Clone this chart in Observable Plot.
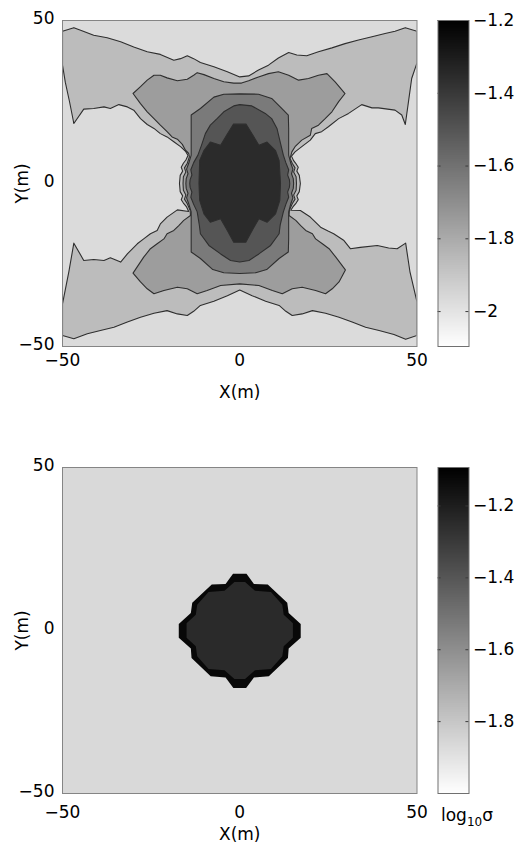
<!DOCTYPE html>
<html>
<head>
<meta charset="utf-8">
<script src="https://cdn.jsdelivr.net/npm/d3@7"></script>
<script src="https://cdn.jsdelivr.net/npm/@observablehq/plot@0.6"></script>
<style>
  html, body { margin: 0; padding: 0; background: #fff; }
  #fig { position: relative; width: 520px; height: 849px; background: #fff; font-family: "DejaVu Sans", sans-serif; }
  .panel { position: absolute; }
  #cblabel { position: absolute; left: 441px; top: 805px; font-size: 17px; line-height: 20px; color: #000; white-space: nowrap; }
  #cblabel sub { font-size: 12px; vertical-align: -5px; }
</style>
</head>
<body>
<div id="fig">
  <div id="p1" class="panel" style="left:0;top:0;width:430px"></div>
  <div id="c1" class="panel" style="left:437px;top:0;width:83px"></div>
  <div id="p2" class="panel" style="left:0;top:446.5px;width:430px"></div>
  <div id="c2" class="panel" style="left:437px;top:446.5px;width:83px"></div>
  <div id="cblabel">log<sub>10</sub>σ</div>
</div>
<script>
// ---- shared axis settings ----
const axisTicks = [-50, 0, 50];
const axisDomain = [-50, 50];

// ---- top panel: filled contours of log10 conductivity ----
const contourLevels = [-1.97, -1.86, -1.75, -1.63, -1.50, -1.35];
const colorDomainTop = [-2.096, -1.2];
const colorTicksTop = [-2, -1.8, -1.6, -1.4, -1.2];

const region0 = [[-50, -50], [50, -50], [50, 50], [-50, 50]];

const region1 = [
  [-50, 46.7], [-46.8, 47.8], [-44.9, 47.0], [-41.2, 45.5], [-37.4, 44.7], [-33.6, 43.5], [-29.9, 41.9],
  [-26.1, 40.4], [-22.4, 39.6], [-18.6, 37.8], [-16.7, 38.3], [-14.8, 39.2], [-13.0, 38.3], [-11.1, 37.1],
  [-7.3, 35.8], [-3.5, 34.3], [0, 32.7], [2.5, 33.0], [5.3, 34.8], [8.1, 36.3], [10.9, 38.5], [13.8, 40.2],
  [16.1, 39.4], [18.9, 39.2], [22.2, 40.4], [26.0, 41.6], [29.7, 42.9], [33.5, 44.0], [37.3, 45.0],
  [41.0, 46.0], [43.8, 46.7], [46.7, 47.8], [50, 46.7],
  [50, 37.0], [48.5, 32.2], [47.6, 25.1], [46.7, 18.1], [45.7, 21.0], [43.8, 22.5], [39.1, 23.2], [37.3, 23.2],
  [34.4, 24.2], [30.7, 21.5], [27.9, 19.9], [25.0, 17.4], [23.1, 15.9], [21.3, 15.3], [19.9, 13.3],
  [17.5, 11.3], [15.6, 9.7], [14.6, 8.4],
  [15.2, 7.0], [15.9, 6.0], [16.5, 5.0], [16.1, 3.8], [16.8, 2.5], [17.1, 0], [16.8, -2.5], [16.1, -3.8],
  [16.5, -5.0], [15.9, -6.0], [15.0, -7.2], [14.4, -8.2],
  [17.1, -8.3], [19.9, -10.3], [22.8, -13.4], [24.9, -14.6], [26.5, -15.4], [29.4, -17.5], [31.2, -20.0],
  [34.0, -19.6], [38.8, -19.0], [42.0, -19.8], [44.4, -20.0], [46.8, -18.3], [48.0, -27.0],
  [50, -36.3], [50, -46.6],
  [46.8, -47.8], [43.5, -46.3], [39.3, -45.1], [35.5, -44.1], [31.7, -42.5], [28.0, -41.0], [24.2, -39.8],
  [20.5, -39.0], [17.6, -40.0], [14.8, -40.5], [13.0, -39.2], [11.1, -37.4], [7.3, -36.1], [3.5, -34.4],
  [0, -32.7], [-3.5, -34.4], [-7.3, -36.1], [-11.1, -37.4], [-13.0, -39.2], [-14.8, -40.5], [-17.6, -40.0],
  [-20.5, -39.0], [-24.2, -39.8], [-28.0, -41.0], [-31.7, -42.5], [-35.5, -44.1], [-39.3, -45.1],
  [-43.0, -46.1], [-46.8, -47.6], [-50, -46.6],
  [-50, -36.9], [-48.2, -27.0], [-46.8, -18.3], [-44.0, -23.6], [-41.2, -23.3], [-38.3, -23.6], [-36.5, -22.8],
  [-33.6, -24.1], [-31.7, -21.6], [-28.9, -18.5], [-27.1, -17.0], [-25.2, -15.4], [-23.3, -14.4],
  [-22.4, -12.4], [-20.5, -10.3], [-17.6, -8.1], [-14.4, -8.6],
  [-15.0, -7.2], [-15.9, -6.0], [-16.5, -5.0], [-16.1, -3.8], [-16.8, -2.5], [-17.0, 0], [-16.8, 2.5],
  [-16.1, 3.8], [-16.5, 5.0], [-15.9, 6.2], [-15.2, 7.2], [-14.6, 8.6],
  [-15.3, 9.9], [-16.7, 11.3], [-18.6, 12.8], [-20.5, 14.3], [-22.4, 15.3], [-24.2, 16.9], [-26.1, 18.1],
  [-28.0, 19.9], [-29.9, 22.5], [-31.7, 23.5], [-34.1, 24.2], [-36.5, 23.0], [-38.3, 23.5], [-41.2, 23.0],
  [-44.0, 22.8], [-46.8, 18.4], [-48.0, 25.0], [-49.2, 31.0], [-50, 36.3]
];

const region2 = [
  [-30.1, 27.6], [-28.0, 29.7], [-26.1, 31.7], [-24.2, 33.2], [-22.4, 33.2], [-20.5, 32.4], [-17.6, 31.5],
  [-14.8, 32.0], [-13.0, 33.2], [-12.0, 34.0], [-10.1, 33.4], [-7.3, 32.2], [-4.5, 31.2], [-1.7, 30.8],
  [0.5, 30.8], [2.5, 31.5], [5.3, 32.7], [8.1, 33.7], [10.9, 34.3], [13.8, 33.2], [16.6, 31.7], [19.4, 32.2],
  [22.2, 33.2], [24.6, 33.7], [26.9, 31.2], [29.7, 27.6],
  [27.9, 25.1], [26.0, 22.0], [24.1, 19.9], [22.2, 17.9], [20.3, 16.9], [19.9, 14.8], [17.5, 13.3],
  [15.6, 11.3], [14.7, 9.7], [14.2, 7.7],
  [14.8, 6.2], [15.6, 4.8], [15.2, 3.5], [15.9, 2.1], [16.0, 0], [15.9, -2.1], [15.2, -3.5], [15.6, -4.8],
  [14.8, -6.2], [14.0, -8.2],
  [13.9, -9.8], [15.8, -11.3], [17.2, -12.9], [18.6, -14.4], [20.5, -15.4], [21.4, -17.0], [23.3, -18.5],
  [25.2, -20.0], [27.1, -22.6], [29.8, -26.5],
  [28.0, -30.2], [26.1, -32.3], [24.2, -33.8], [21.4, -32.8], [17.6, -31.8], [14.8, -32.3], [12.0, -33.8],
  [9.2, -32.8], [5.4, -31.3], [0, -30.8], [-5.4, -31.3], [-9.2, -32.8], [-12.0, -33.8], [-14.8, -32.3],
  [-17.6, -31.8], [-21.4, -32.8], [-24.2, -33.8], [-26.1, -32.3], [-28.0, -30.2], [-30.1, -27.5],
  [-27.1, -22.6], [-25.2, -20.0], [-23.3, -18.5], [-21.4, -17.0], [-20.5, -15.4], [-18.6, -14.4],
  [-17.2, -12.9], [-15.8, -11.3], [-13.9, -9.8], [-14.0, -8.2],
  [-14.8, -6.2], [-15.6, -4.8], [-15.2, -3.5], [-15.9, -2.1], [-16.0, 0], [-15.9, 2.1], [-15.2, 3.5],
  [-15.6, 4.8], [-14.8, 6.2], [-14.2, 8.2],
  [-14.4, 9.2], [-15.3, 10.2], [-16.2, 12.0], [-17.6, 13.6], [-19.1, 14.3], [-20.5, 15.9], [-22.4, 17.9],
  [-24.2, 19.9], [-26.1, 22.0], [-28.0, 24.5]
];

const region3 = [
  [-13.7, 21.0], [-11.1, 23.0], [-7.3, 26.5], [-4.5, 27.4], [0, 27.5], [5.3, 27.4], [9.0, 26.1],
  [11.9, 23.0], [13.7, 21.0],
  [13.8, 16.9], [13.8, 11.7], [13.8, 8.7],
  [14.4, 6.2], [15.0, 4.4], [14.6, 3.0], [15.1, 1.5], [15.2, 0], [15.1, -1.5], [14.6, -3.0], [15.0, -4.4],
  [14.4, -6.2], [13.8, -8.7],
  [13.8, -11.7], [13.8, -16.9], [13.7, -21.0], [11.1, -23.0], [7.6, -26.4], [4.5, -27.4], [0, -27.6],
  [-4.5, -27.4], [-7.6, -26.4], [-11.1, -23.0], [-13.7, -21.0],
  [-13.7, -16.9], [-13.7, -11.7], [-13.7, -8.7],
  [-14.4, -6.2], [-15.0, -4.4], [-14.6, -3.0], [-15.1, -1.5], [-15.2, 0], [-15.1, 1.5], [-14.6, 3.0],
  [-15.0, 4.4], [-14.4, 6.2], [-13.7, 8.7],
  [-13.7, 11.7], [-13.7, 16.9]
];

const region4 = [
  [0, 24.2], [3.4, 23.8], [7.2, 21.5], [9.0, 19.9], [10.5, 16.9], [11.4, 12.8], [12.3, 8.7],
  [13.0, 6.4], [13.8, 4.2], [13.5, 2.6], [14.0, 1.2], [14.1, 0], [14.0, -1.2], [13.5, -2.6], [13.8, -4.2],
  [13.0, -6.4], [12.3, -8.7],
  [11.4, -12.8], [11.1, -15.4], [8.7, -19.0], [5.4, -21.6], [2.6, -23.6], [0, -24.1], [-2.6, -23.6],
  [-5.4, -21.6], [-8.7, -19.0], [-11.1, -15.4], [-11.4, -12.8], [-12.0, -8.7],
  [-13.0, -6.4], [-13.8, -4.2], [-13.5, -2.6], [-14.0, -1.2], [-14.1, 0], [-14.0, 1.2], [-13.5, 2.6],
  [-13.8, 4.2], [-13.0, 6.4], [-11.8, 8.7],
  [-10.8, 11.7], [-9.7, 15.3], [-8.3, 17.9], [-6.4, 19.9], [-4.5, 22.0], [-1.7, 23.8]
];

const region5 = [
  [-1.8, 18.2], [1.8, 18.2], [3.5, 15.2], [5.4, 11.7], [7.7, 12.7], [10.1, 10.1], [11.1, 7.1], [11.5, 0],
  [11.3, -5.2], [10.1, -9.3], [7.7, -11.9], [5.4, -10.8], [3.5, -14.4], [1.7, -18.0], [-1.7, -18.0],
  [-3.5, -14.4], [-5.4, -10.8], [-8.3, -11.9], [-10.1, -9.3], [-11.3, -5.2], [-11.5, 0], [-11.3, 7.1],
  [-10.1, 10.1], [-8.3, 12.7], [-5.4, 11.7], [-3.5, 15.2]
];

// ---- bottom panel: block model ----
const modelValues = [-1.865, -1.121, -1.242];
const colorDomainBottom = [-2.0, -1.093];
const colorTicksBottom = [-1.8, -1.6, -1.4, -1.2];

const modelBackground = [[-50, -50], [50, -50], [50, 50], [-50, 50]];
const blockOuter = [
  [-1.9, 17.4], [1.9, 17.4], [4.0, 14.3], [7.9, 14.1], [13.4, 8.5], [13.8, 5.4], [17.2, 2.0],
  [17.2, -2.2], [13.8, -5.5], [13.6, -8.4], [8.2, -14.0], [4.0, -14.4], [1.8, -17.6], [-1.8, -17.6],
  [-4.0, -14.4], [-8.2, -14.0], [-13.6, -8.4], [-13.8, -5.5], [-17.2, -2.2], [-17.2, 2.0], [-13.8, 5.4],
  [-13.4, 8.5], [-7.9, 14.1], [-4.0, 14.3]
];
const blockInner = [
  [-1.5, 14.9], [1.5, 14.9], [4.3, 12.2], [8.8, 11.8], [12.0, 7.9], [12.4, 4.8], [15.0, 2.2],
  [15.0, -2.2], [12.4, -4.8], [12.0, -7.9], [8.8, -11.8], [4.3, -12.2], [1.5, -14.9], [-1.5, -14.9],
  [-4.3, -12.2], [-8.8, -11.8], [-12.0, -7.9], [-12.4, -4.8], [-15.0, -2.2], [-15.0, 2.2], [-12.4, 4.8],
  [-12.0, 7.9], [-8.8, 11.8], [-4.3, 12.2]
];

// flatten polygons into rows for the line mark (one z group per polygon)
function rows(polys, values) {
  return polys.flatMap((pts, i) => pts.map(([x, y]) => ({x, y, id: i, v: values[i]})));
}

// tick labels with a true minus sign and no trailing zeros (−2, −1.8 …)
const fmt = d => (d < 0 ? "\u2212" : "") + String(Math.abs(d));

const font = "'DejaVu Sans', sans-serif";
const baseStyle = {fontFamily: font, fontSize: "17px", color: "#000", background: "transparent", overflow: "visible"};

function grayScale(domain) {
  return {type: "linear", domain, range: ["#ffffff", "#000000"], interpolate: "rgb", clamp: true};
}

function mainPanel({data, domain, stroke, tickPadding, labelDy}) {
  const bg = data.filter(d => d.id === 0);
  const rest = data.filter(d => d.id > 0);
  return Plot.plot({
    width: 430, height: 400,
    marginLeft: 62, marginRight: 13.5, marginTop: 20, marginBottom: 54,
    style: baseStyle,
    x: {domain: axisDomain},
    y: {domain: axisDomain},
    color: grayScale(domain),
    marks: [
      Plot.line(bg, {x: "x", y: "y", z: "id", fill: "v", stroke: "none", curve: "linear-closed"}),
      Plot.line(rest, {x: "x", y: "y", z: "id", fill: "v", stroke: stroke, strokeWidth: stroke === "none" ? 0 : 1.1,
                       curve: "linear-closed", clip: true}),
      Plot.frame({stroke: "#858585", strokeWidth: 1}),
      Plot.axisX({ticks: axisTicks, tickFormat: fmt, tickSize: 0, tickPadding, label: null, fontSize: 17}),
      Plot.axisY({ticks: axisTicks, tickFormat: fmt, tickSize: 0, tickPadding: 8, dy: -2, label: null, fontSize: 17}),
      Plot.text(["X(m)"], {text: d => d, frameAnchor: "bottom", lineAnchor: "middle", textAnchor: "middle", dy: labelDy, fontSize: 17}),
      Plot.text(["Y(m)"], {text: d => d, frameAnchor: "left", lineAnchor: "middle", textAnchor: "middle", dx: -40, rotate: -90, fontSize: 17})
    ]
  });
}

function colorbar(domain, ticks) {
  return Plot.plot({
    width: 83, height: 400,
    marginLeft: 0.5, marginRight: 51.5, marginTop: 20, marginBottom: 54,
    style: baseStyle,
    x: {domain: [0, 1], axis: null},
    y: {domain},
    color: grayScale(domain),
    marks: [
      Plot.raster({x1: 0, x2: 1, y1: domain[0], y2: domain[1], width: 1, height: 400, fill: (x, y) => y}),
      Plot.ruleY(ticks, {x1: 0, x2: 0.1, stroke: "#3a3a3a", strokeWidth: 1}),
      Plot.ruleY(ticks, {x1: 0.9, x2: 1, stroke: "#3a3a3a", strokeWidth: 1}),
      Plot.frame({stroke: "#707070", strokeWidth: 1}),
      Plot.axisY({anchor: "right", ticks, tickFormat: fmt, tickSize: 0, tickPadding: 4, label: null, fontSize: 17})
    ]
  });
}

const topRows = rows([region0, region1, region2, region3, region4, region5], contourLevels);
const bottomRows = rows([modelBackground, blockOuter, blockInner], modelValues);

document.getElementById("p1").append(mainPanel({data: topRows, domain: colorDomainTop, stroke: "#2e2e2e", tickPadding: 7, labelDy: 46}));
document.getElementById("c1").append(colorbar(colorDomainTop, colorTicksTop));
document.getElementById("p2").append(mainPanel({data: bottomRows, domain: colorDomainBottom, stroke: "none", tickPadding: 12, labelDy: 41}));
document.getElementById("c2").append(colorbar(colorDomainBottom, colorTicksBottom));
</script>
</body>
</html>
